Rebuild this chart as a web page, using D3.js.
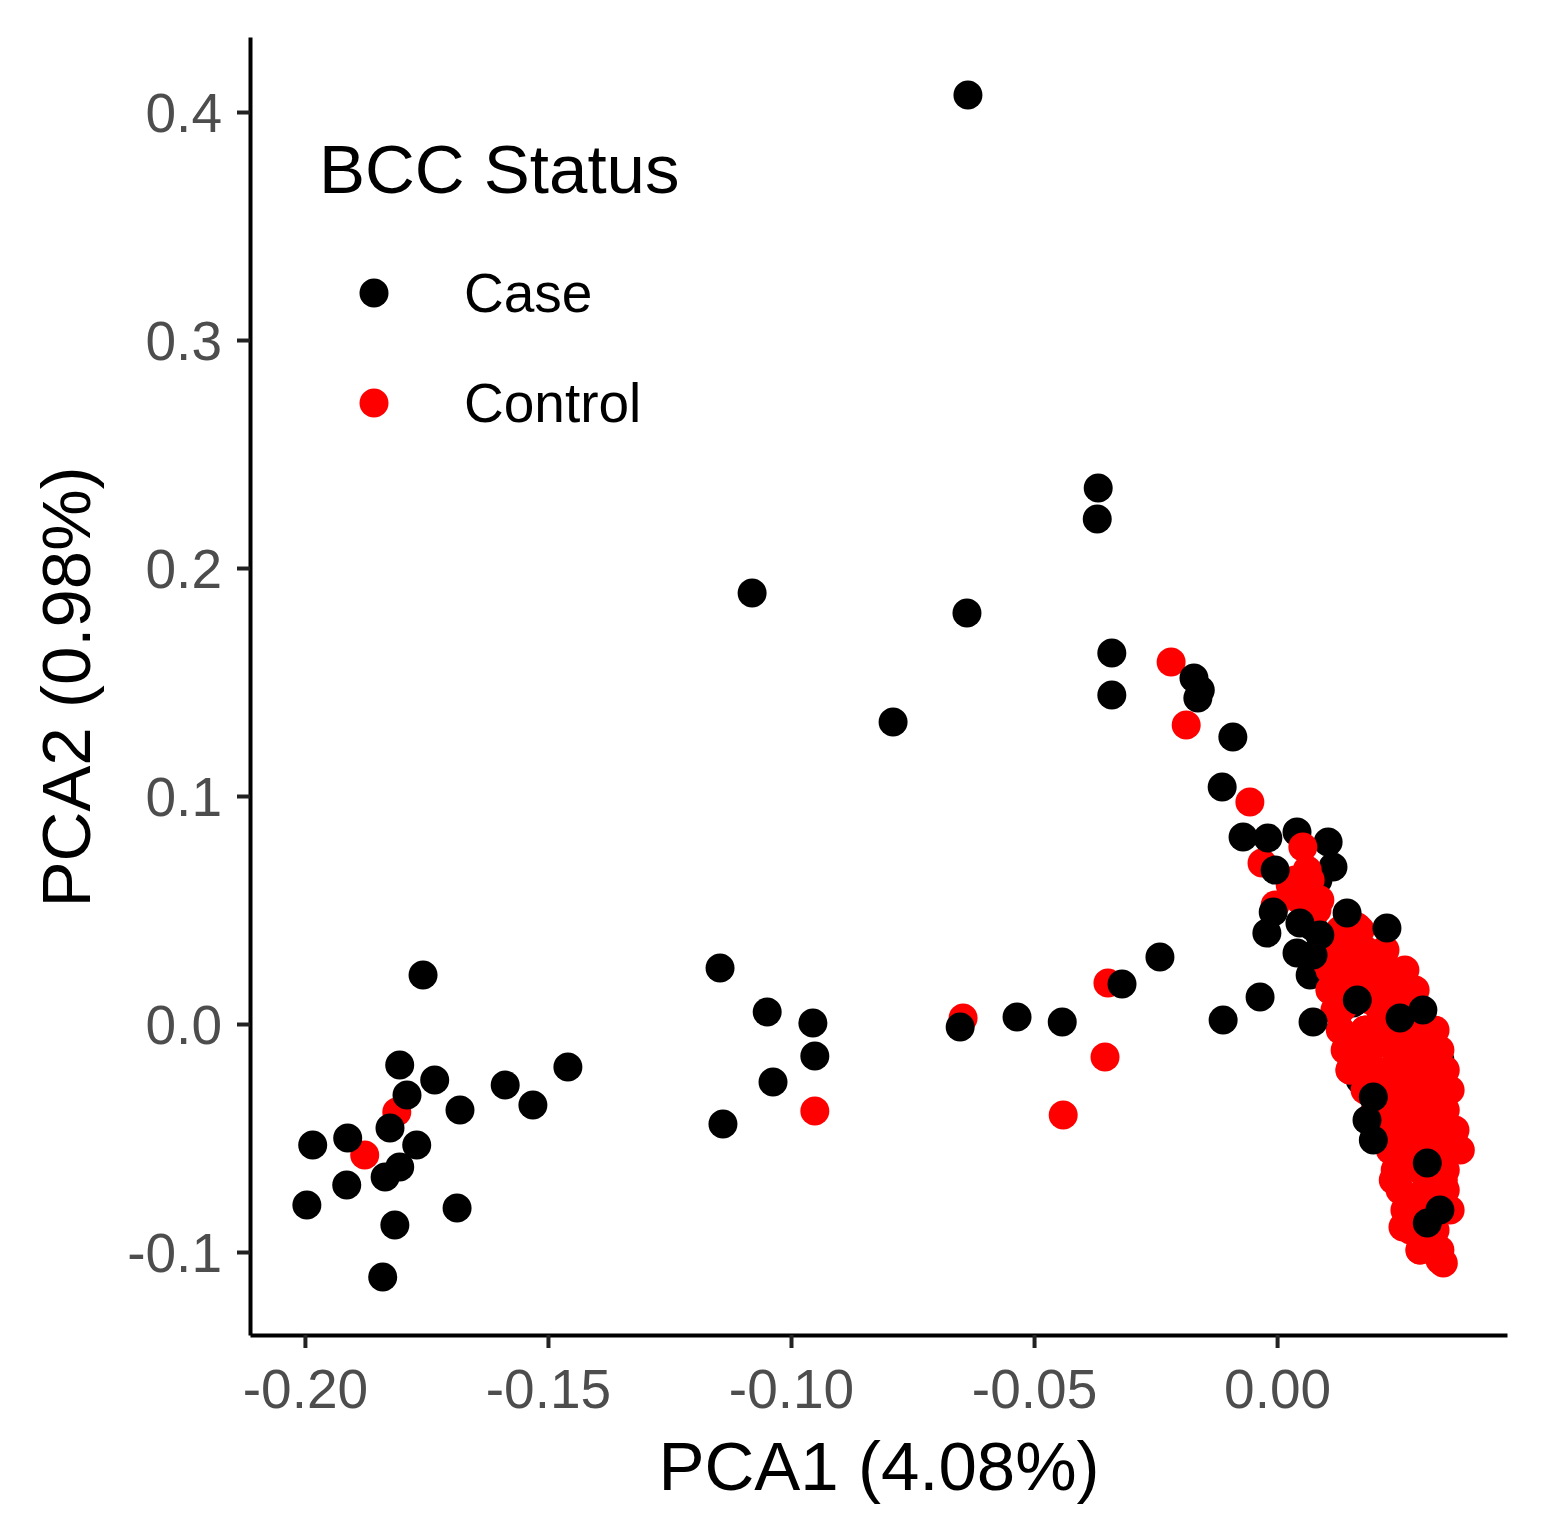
<!DOCTYPE html>
<html>
<head>
<meta charset="utf-8">
<style>
  body { margin: 0; background: white; }
  svg { display: block; font-family: "Liberation Sans", Arial, sans-serif; }
</style>
</head>
<body>
<script src="https://d3js.org/d3.v7.min.js"></script>
<svg width="1568" height="1532"></svg>
<script>
// PCA scores, [PCA1, PCA2]
// case points drawn underneath the controls
const caseUnder = [
  [0.0041, 0.0842], [0.0105, 0.0798], [0.0115, 0.0689], [0.0156, 0.0092],
  [0.0335, -0.0158], [0.0084, 0.0632], [0.0088, 0.0325],
  [0.0068, 0.0215], [0.0243, 0.0105], [0.0294, -0.0092], [0.0171, -0.0246],
  [0.0253, -0.0553], [0.0074, 0.0425]
]
const control = [
  [-0.1811, -0.0386], [-0.1877, -0.0575],
  [-0.0951, -0.0382], [-0.0646, 0.0026], [-0.0348, 0.0180], [-0.0354, -0.0145], [-0.0440, -0.0399],
  [-0.0218, 0.1588], [-0.0187, 0.1311], [-0.0056, 0.0974],
  [-0.0031, 0.0706], [0.0053, 0.0776], [0.0062, 0.0675], [0.0053, 0.0588], [0.0082, 0.0500],
  [0.0109, 0.0382], [0.0165, 0.0425], [0.0103, 0.0268], [0.0123, 0.0180], [0.0206, 0.0268],
  [0.0253, 0.0224], [0.0177, 0.0180], [0.0130, 0.0061], [0.0218, 0.0092], [0.0288, 0.0004],
  [0.0309, -0.0013], [0.0150, -0.0114], [0.0212, -0.0083], [0.0280, -0.0114], [0.0335, -0.0232],
  [0.0150, -0.0202], [0.0233, -0.0202], [0.0300, -0.0276], [0.0212, -0.0434], [0.0267, -0.0377],
  [0.0321, -0.0408], [0.0362, -0.0496], [0.0315, -0.0522], [0.0253, -0.0496], [0.0274, -0.0596],
  [0.0239, -0.0684], [0.0342, -0.0684], [0.0309, -0.0741], [0.0280, -0.0816], [0.0259, -0.0890],
  [0.0309, -0.0961], [0.0342, -0.1048], [0.0294, -0.0991], [0.0274, -0.0873], [0.0136, 0.0075],
  [0.0165, -0.0189], [0.0274, -0.0189], [0.0233, -0.0390], [0.0288, -0.0421], [0.0356, -0.0496],
  [0.0247, -0.0671], [0.0321, -0.0947], [0.0335, -0.1035], [0.0191, 0.0105], [0.0243, -0.0026],
  [0.0181, -0.0026], [0.0109, 0.0149], [0.0160, 0.0325], [0.0243, -0.0311], [0.0294, -0.0333],
  [0.0171, -0.0048], [0.0027, 0.0610], [0.0068, 0.0522], [-0.0004, 0.0522],
  [0.0037, 0.0632], [0.0068, 0.0632], [0.0047, 0.0544], [0.0088, 0.0544],
  [0.0130, 0.0412], [0.0171, 0.0412],
  [0.0140, 0.0325], [0.0181, 0.0325], [0.0222, 0.0325],
  [0.0109, 0.0237], [0.0150, 0.0237], [0.0191, 0.0237], [0.0233, 0.0237], [0.0263, 0.0237],
  [0.0109, 0.0149], [0.0202, 0.0149], [0.0243, 0.0149], [0.0284, 0.0149],
  [0.0119, 0.0061], [0.0212, 0.0061], [0.0263, 0.0061],
  [0.0130, -0.0026], [0.0181, -0.0026], [0.0222, -0.0026], [0.0274, -0.0026], [0.0325, -0.0026],
  [0.0140, -0.0114], [0.0191, -0.0114], [0.0243, -0.0114], [0.0294, -0.0114], [0.0335, -0.0114],
  [0.0150, -0.0202], [0.0202, -0.0202], [0.0253, -0.0202], [0.0305, -0.0202], [0.0346, -0.0202],
  [0.0181, -0.0289], [0.0233, -0.0289], [0.0274, -0.0289], [0.0325, -0.0289], [0.0356, -0.0289],
  [0.0202, -0.0377], [0.0243, -0.0377], [0.0294, -0.0377], [0.0346, -0.0377],
  [0.0222, -0.0465], [0.0263, -0.0465], [0.0315, -0.0465], [0.0366, -0.0465],
  [0.0233, -0.0553], [0.0284, -0.0553], [0.0335, -0.0553], [0.0377, -0.0553],
  [0.0243, -0.0640], [0.0294, -0.0640], [0.0346, -0.0640],
  [0.0253, -0.0728], [0.0305, -0.0728], [0.0346, -0.0728],
  [0.0263, -0.0816], [0.0315, -0.0816], [0.0356, -0.0816],
  [0.0274, -0.0904], [0.0325, -0.0904],
  [0.0294, -0.0991], [0.0335, -0.0991]
]
// case points drawn on top
const caseOver = [
  [-0.1757, 0.0215], [-0.1805, -0.0180], [-0.1733, -0.0246], [-0.1459, -0.0189], [-0.1588, -0.0268],
  [-0.1531, -0.0355], [-0.1681, -0.0377], [-0.1790, -0.0311], [-0.1825, -0.0456], [-0.1770, -0.0531],
  [-0.1912, -0.0500], [-0.1984, -0.0531], [-0.1805, -0.0627], [-0.1835, -0.0671], [-0.1914, -0.0706],
  [-0.1996, -0.0794], [-0.1687, -0.0807], [-0.1815, -0.0882], [-0.1840, -0.1110],
  [-0.1146, 0.0246], [-0.1049, 0.0053], [-0.0955, 0.0004], [-0.0951, -0.0140], [-0.1037, -0.0254],
  [-0.1140, -0.0439], [-0.0652, -0.0013], [-0.0535, 0.0031], [-0.0442, 0.0009], [-0.0319, 0.0175],
  [-0.0241, 0.0294],
  [-0.0636, 0.4075], [-0.0368, 0.2351], [-0.0370, 0.2215], [-0.1080, 0.1890], [-0.0638, 0.1803],
  [-0.0340, 0.1627], [-0.0340, 0.1443], [-0.0790, 0.1325], [-0.0171, 0.1518], [-0.0158, 0.1465],
  [-0.0163, 0.1430], [-0.0091, 0.1259], [-0.0113, 0.1039],
  [-0.0070, 0.0820], [-0.0019, 0.0816], [-0.0004, 0.0675], [-0.0008, 0.0491], [-0.0021, 0.0399],
  [0.0144, 0.0487], [0.0226, 0.0421], [0.0047, 0.0443], [0.0041, 0.0311], [-0.0035, 0.0118],
  [0.0088, 0.0390], [0.0074, 0.0303],
  [-0.0111, 0.0018], [0.0074, 0.0009], [0.0253, 0.0026], [0.0300, 0.0061], [0.0165, 0.0105],
  [0.0185, -0.0421], [0.0198, -0.0320],
  [0.0198, -0.0509], [0.0309, -0.0610], [0.0335, -0.0816], [0.0309, -0.0873]
]
const xTicks = [-0.20, -0.15, -0.10, -0.05, 0.00]
const yTicks = [-0.1, 0.0, 0.1, 0.2, 0.3, 0.4]
const groups = ["Case", "Control"]
const colors = ["#000000", "#ff0000"]

const svg = d3.select("svg")
const xScale = d3.scaleLinear().domain([-0.2113, 0.0473]).range([250, 1507])
const yScale = d3.scaleLinear().domain([-0.1364, 0.4329]).range([1335, 37])
const r = 14.5

function drawPoints(data, cls, color) {
    svg.selectAll("circle." + cls)
        .data(data)
        .enter()
        .append("circle")
        .attr("class", cls)
        .attr("r", r)
        .attr("cx", d => xScale(d[0]))
        .attr("cy", d => yScale(d[1]))
        .style("fill", color)
}
drawPoints(caseUnder, "caseUnder", colors[0])
drawPoints(control, "control", colors[1])
drawPoints(caseOver, "caseOver", colors[0])

// axes
const xAxis = d3.axisBottom(xScale)
    .tickValues(xTicks)
    .tickSize(13)
    .tickSizeOuter(0)
const yAxis = d3.axisLeft(yScale)
    .tickValues(yTicks)
    .tickSize(13)
    .tickSizeOuter(0)

const gx = svg.append("g").attr("transform", "translate(0,1335)").call(xAxis)
const gy = svg.append("g").attr("transform", "translate(250,0)").call(yAxis)
for (const g of [gx, gy]) {
    g.select("path.domain").attr("stroke", "black").attr("stroke-width", 4)
    g.selectAll(".tick line").attr("stroke", "#222").attr("stroke-width", 4)
    g.selectAll(".tick text")
        .attr("fill", "#4d4d4d")
        .style("font-size", "55px")
        .style("font-family", "'Liberation Sans', Arial, sans-serif")
}
gx.selectAll(".tick text").attr("dy", null).attr("y", 73)
    .text(d => d3.format(".2f")(d).replace("−", "-"))
gy.selectAll(".tick text").attr("dy", "0.36em").attr("x", -28)
    .text(d => d3.format(".1f")(d).replace("−", "-"))

// axis titles
svg.append("text")
    .attr("x", 879).attr("y", 1490)
    .attr("text-anchor", "middle")
    .style("font-size", "69px")
    .text("PCA1 (4.08%)")
svg.append("text")
    .attr("transform", "translate(90,687) rotate(-90)")
    .attr("text-anchor", "middle")
    .style("font-size", "69px")
    .text("PCA2 (0.98%)")

// legend
svg.append("text")
    .attr("x", 319).attr("y", 193)
    .style("font-size", "69px")
    .text("BCC Status")
const legend = svg.selectAll("g.legend")
    .data(groups)
    .enter()
    .append("g")
    .attr("class", "legend")
    .attr("transform", (d, i) => "translate(0," + (i * 110) + ")")
legend.append("circle")
    .attr("cx", 374).attr("cy", 293).attr("r", r)
    .style("fill", (d, i) => colors[i])
legend.append("text")
    .attr("x", 464).attr("y", 312)
    .style("font-size", "55px")
    .text(d => d)
</script>
</body>
</html>
